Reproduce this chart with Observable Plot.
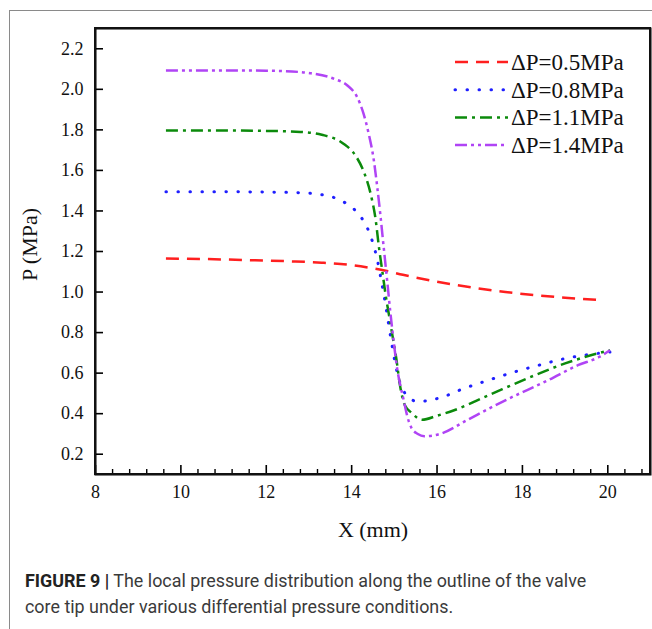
<!DOCTYPE html>
<html><head><meta charset="utf-8">
<script src="https://cdn.jsdelivr.net/npm/d3@7"></script>
<script src="https://cdn.jsdelivr.net/npm/@observablehq/plot@0.6"></script>
<style>
body{margin:0;background:#fff;width:652px;height:629px;overflow:hidden;position:relative;}
#chart{display:block;}
.gl{position:absolute;background:#8a8a8a;}
#framebox{position:absolute;left:94px;top:27px;width:557px;height:448px;box-sizing:border-box;border:2px solid #111;pointer-events:none;}
#caption{position:absolute;left:25px;top:568px;font-family:Roboto,sans-serif;font-size:17.9px;color:#3a3a3a;line-height:26px;white-space:nowrap;}
#caption b{color:#222;}
</style></head>
<body>
<div id="chart"></div>
<div id="framebox"></div>
<div id="caption"><b>FIGURE 9 |</b> The local pressure distribution along the outline of the valve<br>core tip under various differential pressure conditions.</div>
<div class="gl" style="left:9px;top:10px;width:643px;height:1px;"></div>
<div class="gl" style="left:9px;top:10px;width:1px;height:619px;"></div>
<script>
// ---- data ----
const seriesNames = ["ΔP=0.5MPa", "ΔP=0.8MPa", "ΔP=1.1MPa", "ΔP=1.4MPa"];
const xP05 = [9.65, 10.5, 11.5, 12.5, 13.3, 13.9, 14.4, 14.8, 15.2, 15.7, 16.3, 16.9, 17.6, 18.3, 19.0, 19.85];
const yP05 = [1.165, 1.163, 1.158, 1.152, 1.145, 1.135, 1.12, 1.105, 1.085, 1.063, 1.04, 1.02, 1.0, 0.985, 0.972, 0.96];
const xP08 = [9.65, 11, 12, 12.8, 13.3, 13.6, 13.85, 14.05, 14.25, 14.4, 14.5, 14.6, 14.7, 14.8, 14.92, 15.02, 15.12, 15.25, 15.4, 15.55, 15.8, 16.1, 16.6, 17.2, 17.8, 18.4, 19.0, 19.5, 20.05];
const yP08 = [1.495, 1.495, 1.493, 1.49, 1.48, 1.465, 1.44, 1.41, 1.36, 1.30, 1.24, 1.16, 1.05, 0.93, 0.77, 0.65, 0.56, 0.50, 0.47, 0.46, 0.465, 0.48, 0.522, 0.565, 0.605, 0.64, 0.672, 0.69, 0.704];
const xP11 = [9.65, 11, 12, 12.8, 13.3, 13.8, 14.1, 14.3, 14.45, 14.56, 14.64, 14.72, 14.8, 14.88, 14.96, 15.04, 15.14, 15.25, 15.4, 15.65, 16.0, 16.4, 17.2, 18.1, 19.0, 19.6, 20.05];
const yP11 = [1.797, 1.797, 1.795, 1.79, 1.776, 1.733, 1.67, 1.585, 1.48, 1.36, 1.22, 1.10, 0.98, 0.88, 0.78, 0.68, 0.53, 0.44, 0.405, 0.37, 0.39, 0.417, 0.49, 0.573, 0.648, 0.688, 0.713];
const xP14 = [9.65, 11, 12, 12.6, 13.05, 13.6, 13.9, 14.13, 14.28, 14.4, 14.52, 14.6, 14.67, 14.75, 14.83, 14.91, 15.0, 15.06, 15.14, 15.22, 15.3, 15.4, 15.55, 15.7, 15.9, 16.1, 16.7, 17.6, 18.6, 19.3, 19.8, 20.05];
const yP14 = [2.093, 2.093, 2.092, 2.088, 2.079, 2.051, 2.019, 1.961, 1.879, 1.78, 1.649, 1.517, 1.386, 1.222, 1.06, 0.893, 0.73, 0.63, 0.54, 0.466, 0.39, 0.33, 0.30, 0.289, 0.292, 0.302, 0.368, 0.466, 0.565, 0.639, 0.68, 0.713];
const xTicks = [8, 10, 12, 14, 16, 18, 20];
const xMinorTicks = d3.range(8, 21.01, 0.4).map(v => +v.toFixed(1)).filter(v => !xTicks.includes(v));
const yTicks = [0.2, 0.4, 0.6, 0.8, 1.0, 1.2, 1.4, 1.6, 1.8, 2.0, 2.2];
const xDomain = [8, 21];
const yDomain = [0.1, 2.3];

// ---- styles ----
const colors = ["#ff1f1f", "#1f1fff", "#0b8a0b", "#b044f5"];
const dashes = ["13,8", "0.5,11.5", "12,5,3,5", "12,4,3,4,3,4"];
const caps = ["butt", "round", "butt", "butt"];
const widths = [2.5, 3, 2.5, 2.5];
const serif = "Liberation Serif, Times New Roman, serif";

const xs = [xP05, xP08, xP11, xP14];
const ys = [yP05, yP08, yP11, yP14];
const rows = xs.map((xa, i) => xa.map((x, j) => ({s: seriesNames[i], x, y: ys[i][j]})));

const W = 652, H = 545, mL = 95, mR = 2, mT = 28, mB = 71;
const fw = W - mL - mR, fh = H - mT - mB;

const chart = Plot.plot({
  width: W, height: H,
  marginLeft: mL, marginRight: mR, marginTop: mT, marginBottom: mB,
  x: {domain: xDomain, axis: null},
  y: {domain: yDomain, axis: null},
  style: {fontFamily: serif, fontSize: "18px", background: "transparent", overflow: "visible"},
  marks: [
    ...rows.map((r, i) => Plot.line(r, {x: "x", y: "y", curve: "monotone-x", stroke: colors[i], strokeWidth: widths[i], strokeDasharray: dashes[i], strokeLinecap: caps[i]})),
    Plot.tickX(xTicks, {x: d => d, insetTop: fh - 9, stroke: "black", strokeWidth: 1.6}),
    Plot.tickX(xMinorTicks, {x: d => d, insetTop: fh - 5, stroke: "black", strokeWidth: 1.4}),
    Plot.tickY(yTicks, {y: d => d, insetRight: fw - 8, stroke: "black", strokeWidth: 1.6}),
    Plot.text(xTicks, {x: d => d, frameAnchor: "bottom", lineAnchor: "top", textAnchor: "middle", dy: 11, text: d => String(d), fontFamily: serif, fontSize: 18, fill: "#111"}),
    Plot.text(yTicks, {y: d => d, frameAnchor: "left", lineAnchor: "middle", textAnchor: "end", dx: -12, text: d => d.toFixed(1), fontFamily: serif, fontSize: 18, fill: "#111"}),
    Plot.frame({stroke: "black", strokeWidth: 2}),
    Plot.text(["X (mm)"], {frameAnchor: "bottom", lineAnchor: "middle", textAnchor: "middle", dy: 55, fontSize: 22, fontFamily: serif, fill: "#111"}),
    Plot.text(["P (MPa)"], {frameAnchor: "left", textAnchor: "middle", lineAnchor: "middle", dx: -66, dy: -7, rotate: -90, fontSize: 22, fontFamily: serif, fill: "#111"})
  ]
});
document.getElementById("chart").appendChild(chart);

// legend
const svg = d3.select(chart);
const lg = svg.append("g").attr("font-family", serif).attr("font-size", 23).attr("text-anchor", "start");
seriesNames.forEach((name, i) => {
  const yy = 62 + i * 27.7;
  lg.append("line").attr("x1", 455).attr("x2", 508).attr("y1", yy).attr("y2", yy)
    .attr("stroke", colors[i]).attr("stroke-width", widths[i]).attr("stroke-dasharray", dashes[i]).attr("stroke-linecap", caps[i]);
  lg.append("text").attr("x", 511).attr("y", yy).attr("dy", "0.35em").attr("fill", "#111").attr("text-anchor", "start").text(name);
});
</script>
</body></html>
